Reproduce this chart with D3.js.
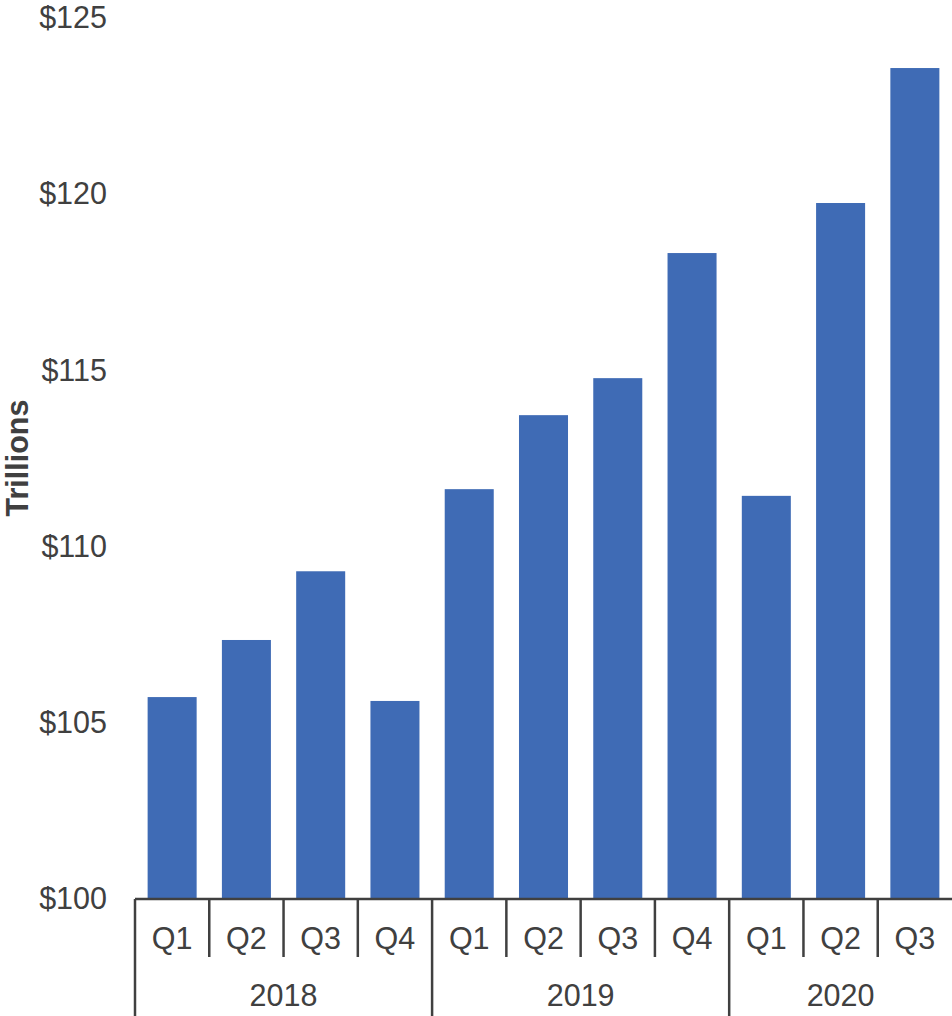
<!DOCTYPE html>
<html><head><meta charset="utf-8">
<script src="https://cdn.jsdelivr.net/npm/d3@7"></script>
<style>body{margin:0;background:#fff}svg{display:block}</style>
</head><body>
<script>
const years = ["2018", "2019", "2020"];
const quarters = ["Q1","Q2","Q3","Q4","Q1","Q2","Q3","Q4","Q1","Q2","Q3"];
const yearOf = ["2018","2018","2018","2018","2019","2019","2019","2019","2020","2020","2020"];
const values = [105.73, 107.35, 109.3, 105.62, 111.63, 113.73, 114.78, 118.33, 111.44, 119.75, 123.58];
const yTicks = [100, 105, 110, 115, 120, 125];

const W = 952, H = 1016;
const svg = d3.select("body").append("svg").attr("width", W).attr("height", H);
const mLeft = 135, mRight = 952, mTop = 18, mBottom = 899;
const ids = quarters.map((q, i) => i);
const x = d3.scaleBand().domain(ids).range([mLeft, mRight]).paddingInner(0.34).paddingOuter(0.17);
const y = d3.scaleLinear().domain([100, 125]).range([mBottom, mTop]);
const textColor = "#404040";
const font = "Liberation Sans, Arial, sans-serif";
const fs = 30.5;

svg.append("g").selectAll("rect").data(values).join("rect")
  .attr("x", (d, i) => x(i)).attr("width", x.bandwidth())
  .attr("y", d => y(d)).attr("height", d => y(100) - y(d))
  .attr("fill", "#3F6BB5");

const yAxis = d3.axisLeft(y).tickValues(yTicks).tickSize(0).tickPadding(28).tickFormat(d => "$" + d);
const gy = svg.append("g").attr("transform", `translate(${mLeft},0)`).call(yAxis);
gy.select(".domain").remove();
gy.selectAll("text").attr("font-family", font).attr("font-size", fs).attr("fill", textColor);

svg.append("text").attr("transform", `translate(28,458) rotate(-90)`)
  .attr("text-anchor", "middle").attr("font-family", font).attr("font-size", 30.5).attr("font-weight", "bold")
  .attr("fill", textColor).text("Trillions");

const step = x.step();
const gx = svg.append("g");
gx.append("line").attr("x1", mLeft).attr("x2", mRight).attr("y1", mBottom).attr("y2", mBottom)
  .attr("stroke", textColor).attr("stroke-width", 2.5);
ids.forEach(i => {
  const bx = mLeft + i * step;
  const isYear = i === 0 || yearOf[i] !== yearOf[i - 1];
  gx.append("line").attr("x1", bx).attr("x2", bx).attr("y1", mBottom).attr("y2", isYear ? H : 957)
    .attr("stroke", textColor).attr("stroke-width", 2.5);
});
gx.selectAll("text.q").data(quarters).join("text").attr("class", "q")
  .attr("x", (d, i) => x(i) + x.bandwidth() / 2).attr("y", 949)
  .attr("text-anchor", "middle").attr("font-family", font).attr("font-size", fs).attr("fill", textColor)
  .text(d => d);
years.forEach(yr => {
  const idx = ids.filter(i => yearOf[i] === yr);
  const x0 = mLeft + idx[0] * step, x1 = mLeft + (idx[idx.length - 1] + 1) * step;
  gx.append("text").attr("x", (x0 + x1) / 2).attr("y", 1006).attr("text-anchor", "middle")
    .attr("font-family", font).attr("font-size", fs).attr("fill", textColor).text(yr);
});
</script>
</body></html>
